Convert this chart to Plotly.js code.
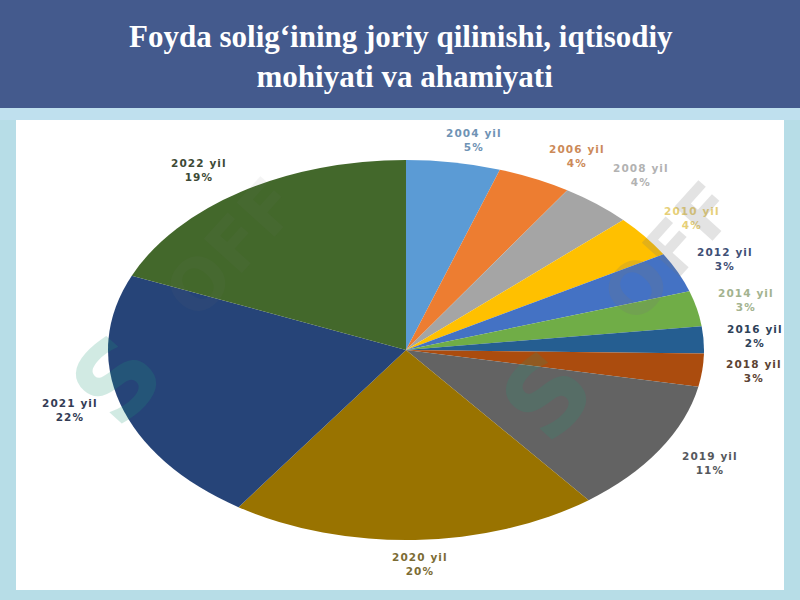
<!DOCTYPE html>
<html>
<head>
<meta charset="utf-8">
<script src="https://cdn.plot.ly/plotly-3.0.1.min.js"></script>
<style>
  html, body { margin: 0; padding: 0; background: #b7dde7; }
  #chart { width: 800px; height: 600px; }
  .annotation-text { letter-spacing: 1.1px; }
</style>
</head>
<body>
<div id="chart"></div>
<script>
// values
var years = ['2004 yil', '2006 yil', '2008 yil', '2010 yil', '2012 yil', '2014 yil',
             '2016 yil', '2018 yil', '2019 yil', '2020 yil', '2021 yil', '2022 yil'];
var shares = [5.1, 4.0, 3.9, 3.6, 3.4, 3.0, 2.3, 2.8, 11.4, 20.0, 21.9, 18.6];
var percents = [5, 4, 4, 4, 3, 3, 2, 3, 11, 20, 22, 19];
var sliceColors = ['#5b9bd5', '#ed7d31', '#a5a5a5', '#ffc000', '#4472c4', '#70ad47',
                   '#255e91', '#ab4c0e', '#636363', '#997300', '#264478', '#43682b'];
var labelColors = ['#6f93b5', '#cc8a58', '#b2b2b2', '#e6cf78', '#3f5076', '#a3b38f',
                   '#2e4258', '#5c4332', '#55585c', '#7c6c34', '#333c55', '#3d4a35'];
// label centres in page pixels
var labelX = [474, 577, 641, 692, 725, 746, 755, 754, 710, 420, 70, 199];
var labelY = [140, 156, 175, 218, 259, 300, 336, 371, 463, 564, 410, 170];

var W = 800, H = 600;
var cx = 406, cy = 350, rx = 298, ry = 190;

function px(x) { return x / W; }
function py(y) { return 1 - y / H; }

function rect(x0, y0, x1, y1, color) {
    return { type: 'rect', xref: 'paper', yref: 'paper', layer: 'below',
        x0: px(x0), x1: px(x1), y0: py(y0), y1: py(y1),
        fillcolor: color, line: { width: 0 } };
}

var annotations = years.map(function (y, i) {
    return { xref: 'paper', yref: 'paper', x: px(labelX[i]), y: py(labelY[i]),
        xanchor: 'center', yanchor: 'middle', showarrow: false,
        text: y + '<br>' + percents[i] + '%',
        font: { family: 'DejaVu Sans', size: 10.5, color: labelColors[i], weight: 'bold' } };
});

// faint stock-site watermark that lies over the picture
function mark(text, x, y, color, size, opacity) {
    annotations.push({ xref: 'paper', yref: 'paper', x: px(x), y: py(y),
        xanchor: 'center', yanchor: 'middle', showarrow: false, textangle: -48,
        text: text, opacity: opacity,
        font: { family: 'DejaVu Sans', size: size, color: color, weight: 'bold' } });
}
mark('S', 118, 380, '#1f9a78', 105, 0.2);
mark('OFF', 232, 248, '#777777', 70, 0.07);
mark('S', 548, 396, '#1f9a78', 105, 0.18);
mark('OFF', 670, 252, '#777777', 70, 0.2);

var data = [{
    type: 'pie',
    labels: years,
    values: shares,
    sort: false,
    direction: 'clockwise',
    rotation: 0,
    textinfo: 'none',
    hoverinfo: 'label+percent',
    showlegend: false,
    marker: { colors: sliceColors, line: { width: 0 } },
    domain: { x: [px(cx - ry), px(cx + ry)], y: [py(cy + ry), py(cy - ry)] }
}];

var layout = {
    width: W, height: H,
    margin: { l: 0, r: 0, t: 0, b: 0 },
    paper_bgcolor: '#b7dde7',
    showlegend: false,
    title: {
        text: 'Foyda solig\u2018ining joriy qilinishi, iqtisodiy<br>\u00a0mohiyati va ahamiyati',
        font: { family: 'Liberation Serif', size: 31, color: '#ffffff', weight: 'bold' },
        x: 0.501, xanchor: 'center', y: py(47), yanchor: 'middle'
    },
    shapes: [
        rect(0, 0, 800, 108, '#445a8d'),
        rect(0, 108, 800, 120, '#bfe0ee'),
        rect(16, 120, 784, 590, '#ffffff')
    ],
    annotations: annotations
};

Plotly.newPlot('chart', data, layout, { displayModeBar: false, staticPlot: true }).then(function () {
    // the slide stretches the pie sideways, plotly only draws round ones
    var k = rx / ry;
    document.querySelector('#chart .pielayer').setAttribute('transform',
        'translate(' + cx + ',0) scale(' + k + ',1) translate(' + (-cx) + ',0)');
});
</script>
</body>
</html>
